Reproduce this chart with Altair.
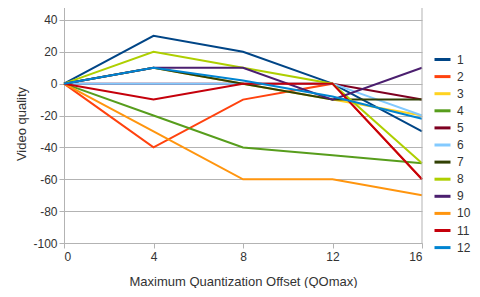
import altair as alt
import pandas as pd

x_vals = [0, 4, 8, 12, 16]
series_names = ["1", "2", "3", "4", "5", "6", "7", "8", "9", "10", "11", "12"]
s1 = [0, 30, 20, 0, -30]
s2 = [0, -40, -10, 0, -60]
s3 = [0, 10, 0, -10, -20]
s4 = [0, -20, -40, -45, -50]
s5 = [0, 0, 0, 0, -10]
s6 = [0, 0, 0, 0, -20]
s7 = [0, 10, 0, -10, -10]
s8 = [0, 20, 10, 0, -50]
s9 = [0, 10, 10, -10, 10]
s10 = [0, -30, -60, -60, -70]
s11 = [0, -10, 0, 0, -60]
s12 = [0, 10, 2, -8, -22]
colors = ["#004586", "#ff420e", "#ffd320", "#579d1c", "#7e0021", "#83caff",
          "#314004", "#aecf00", "#4b1f6f", "#ff950e", "#c5000b", "#0084d1"]
y_ticks = [-100, -80, -60, -40, -20, 0, 20, 40, 50]
border_x = [16]
border_y = [-100]
border_y2 = [50]

all_series = [s1, s2, s3, s4, s5, s6, s7, s8, s9, s10, s11, s12]
rows = []
for i, (name, vals) in enumerate(zip(series_names, all_series)):
    for x, v in zip(x_vals, vals):
        rows.append({"series": name, "order": i, "x": x, "y": v})
df = pd.DataFrame(rows)
border_df = pd.DataFrame({"x": border_x, "y": border_y, "y2": border_y2})

H = 235
yscale = alt.Scale(domain=[-100, 50], nice=False, range=[H, -4])
xscale = alt.Scale(domain=[0, 16], nice=False)
xaxis = alt.Axis(values=x_vals, title="Maximum Quantization Offset (QOmax)", grid=False,
                 tickSize=5, labelPadding=3, titlePadding=13)
yaxis = alt.Axis(values=y_ticks, title="Video quality",
                 labelExpr="datum.value == 50 ? '' : '' + datum.value",
                 labelOverlap=False,
                 tickSize=5, labelPadding=2, titlePadding=4)

lines = alt.Chart(df).mark_line(strokeWidth=2).encode(
    x=alt.X("x:Q", scale=xscale, axis=xaxis),
    y=alt.Y("y:Q", scale=yscale, axis=yaxis),
    color=alt.Color("series:N", scale=alt.Scale(domain=series_names, range=colors),
                    legend=alt.Legend(title=None, orient="none", legendX=369, legendY=42,
                                      symbolType="stroke", symbolSize=256, symbolStrokeWidth=3,
                                      labelOffset=5, rowPadding=1.1, labelFontSize=12,
                                      labelColor="#333333", labelLimit=0)),
    order=alt.Order("order:Q"),
    detail="series:N",
)

border = alt.Chart(border_df).mark_rule(color="#b3b3b3", strokeWidth=1).encode(
    x=alt.X("x:Q", scale=xscale, axis=xaxis),
    y=alt.Y("y:Q", scale=yscale, axis=yaxis),
    y2="y2:Q",
)

chart = alt.layer(lines, border).properties(
    width=358, height=H,
    autosize=alt.AutoSizeParams(type="none"),
    padding={"left": 56, "top": 0, "right": 50, "bottom": 45},
).configure_view(
    stroke=None
).configure_axis(
    gridColor="#b3b3b3", domainColor="#b3b3b3", tickColor="#b3b3b3",
    labelFont="Liberation Sans", titleFont="Liberation Sans",
    labelFontSize=12, titleFontSize=13, titleFontWeight="normal",
    labelColor="#333333", titleColor="#333333"
).configure_legend(
    labelFont="Liberation Sans"
)

chart.save("out.html", embed_options={"renderer": "svg", "actions": False})
